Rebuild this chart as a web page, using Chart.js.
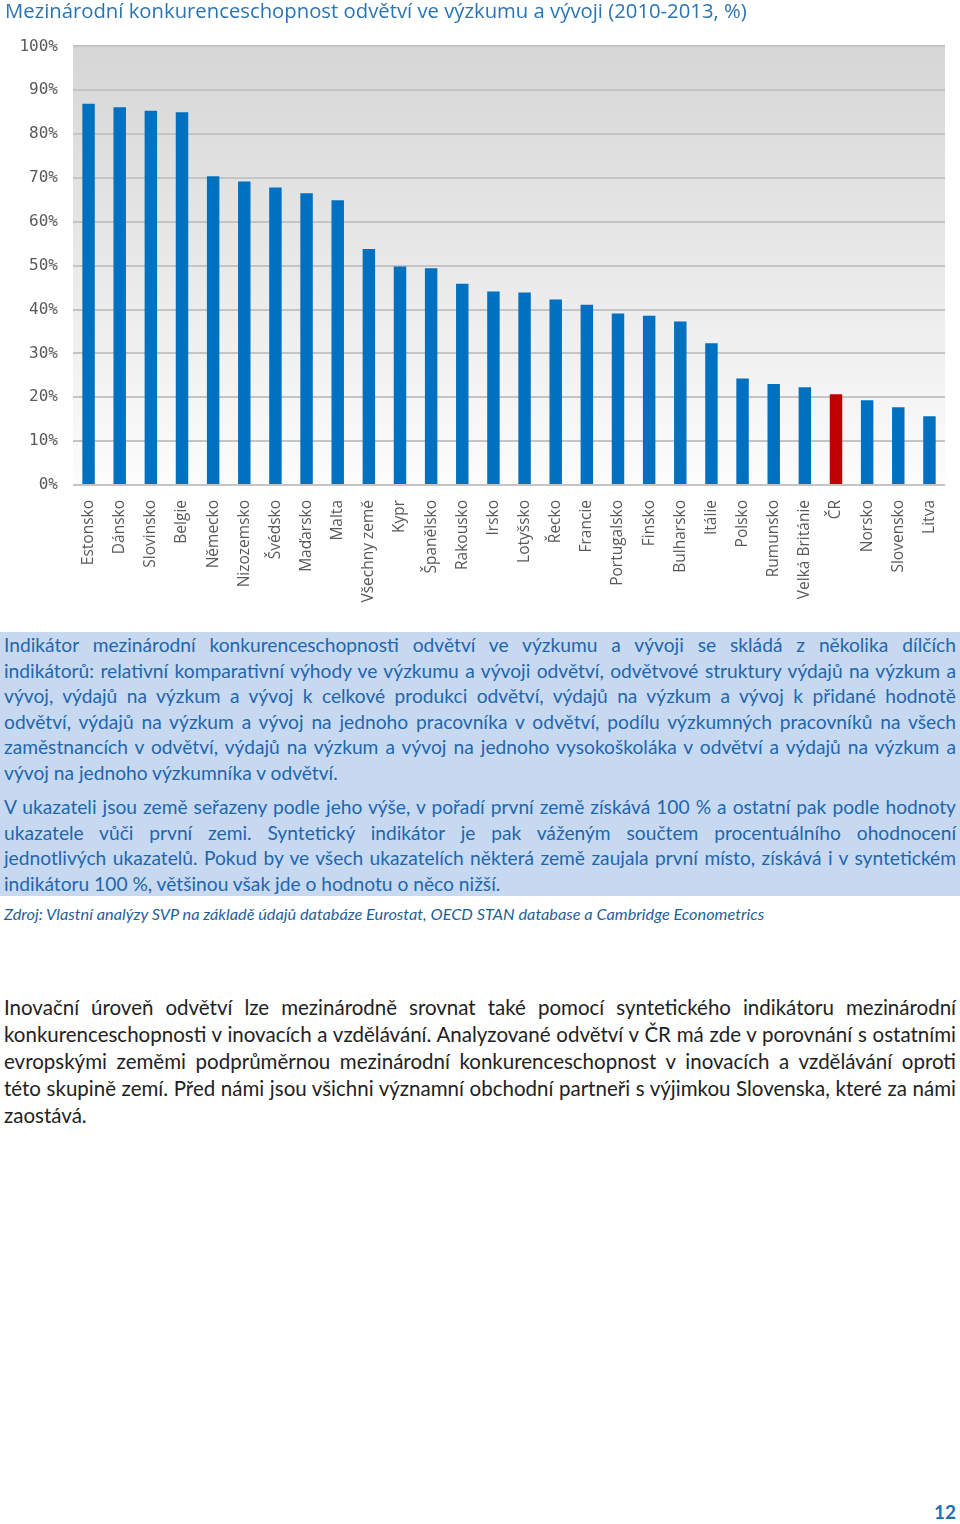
<!DOCTYPE html>
<html lang="cs">
<head>
<meta charset="utf-8">
<script src="https://cdn.jsdelivr.net/npm/chart.js@4"></script>
<style>
  body { margin: 0; background: #fff; width: 960px; height: 1524px; position: relative; }
  #graf { position: absolute; left: 0; top: 0; }
  .box { position: absolute; left: 0; top: 632px; width: 960px; height: 264px; background: #c6d9f1; }
  .box .radky { padding: 0 4px; font-family: Lato, sans-serif; font-size: 19.2px; line-height: 25.5px; color: #1f66ad; }
  .r { display: block; text-align: justify; text-align-last: justify; white-space: nowrap; }
  .r.konec { text-align-last: left; }
  .p2 { margin-top: 9px; }
  .zdroj { position: absolute; left: 4px; top: 904px; font-family: Lato, sans-serif; font-style: italic; font-size: 16.3px; color: #1f5f99; }
  .text { position: absolute; left: 4px; width: 952px; top: 994px; font-family: Lato, sans-serif; font-size: 20.5px; line-height: 27px; color: #222; }
  .strana { position: absolute; left: 934px; top: 1500px; font-family: Lato, sans-serif; font-weight: bold; font-size: 19px; color: #1f6fb5; }
</style>
</head>
<body>
<canvas id="graf" width="960" height="615"></canvas>

<div class="box"><div class="radky">
  <span class="r">Indikátor mezinárodní konkurenceschopnosti odvětví ve výzkumu a vývoji se skládá z několika dílčích</span>
  <span class="r">indikátorů: relativní komparativní výhody ve výzkumu a vývoji odvětví, odvětvové struktury výdajů na výzkum a</span>
  <span class="r">vývoj, výdajů na výzkum a vývoj k celkové produkci odvětví, výdajů na výzkum a vývoj k přidané hodnotě</span>
  <span class="r">odvětví, výdajů na výzkum a vývoj na jednoho pracovníka v odvětví, podílu výzkumných pracovníků na všech</span>
  <span class="r">zaměstnancích v odvětví, výdajů na výzkum a vývoj na jednoho vysokoškoláka v odvětví a výdajů na výzkum a</span>
  <span class="r konec">vývoj na jednoho výzkumníka v odvětví.</span>
  <div class="p2">
  <span class="r">V ukazateli jsou země seřazeny podle jeho výše, v pořadí první země získává 100 % a ostatní pak podle hodnoty</span>
  <span class="r">ukazatele vůči první zemi. Syntetický indikátor je pak váženým součtem procentuálního ohodnocení</span>
  <span class="r">jednotlivých ukazatelů. Pokud by ve všech ukazatelích některá země zaujala první místo, získává i v syntetickém</span>
  <span class="r konec">indikátoru 100 %, většinou však jde o hodnotu o něco nižší.</span>
  </div>
</div></div>
<div class="zdroj">Zdroj: Vlastní analýzy SVP na základě údajů databáze Eurostat, OECD STAN database a Cambridge Econometrics</div>

<div class="text">
  <span class="r">Inovační úroveň odvětví lze mezinárodně srovnat také pomocí syntetického indikátoru mezinárodní</span>
  <span class="r">konkurenceschopnosti v inovacích a vzdělávání. Analyzované odvětví v ČR má zde v porovnání s ostatními</span>
  <span class="r">evropskými zeměmi podprůměrnou mezinárodní konkurenceschopnost v inovacích a vzdělávání oproti</span>
  <span class="r">této skupině zemí. Před námi jsou všichni významní obchodní partneři s výjimkou Slovenska, které za námi</span>
  <span class="r konec">zaostává.</span>
</div>
<div class="strana">12</div>

<script>
// data (%)
var zeme = ['Estonsko', 'Dánsko', 'Slovinsko', 'Belgie', 'Německo', 'Nizozemsko', 'Švédsko', 'Maďarsko',
  'Malta', 'Všechny země', 'Kypr', 'Španělsko', 'Rakousko', 'Irsko', 'Lotyšsko', 'Řecko', 'Francie',
  'Portugalsko', 'Finsko', 'Bulharsko', 'Itálie', 'Polsko', 'Rumunsko', 'Velká Británie', 'ČR',
  'Norsko', 'Slovensko', 'Litva'];
var hodnoty = [86.9, 86.1, 85.3, 85.0, 70.4, 69.2, 67.8, 66.5,
  64.9, 53.8, 49.8, 49.4, 45.9, 44.1, 43.9, 42.3, 41.1,
  39.1, 38.6, 37.3, 32.3, 24.3, 23.0, 22.3, 20.7,
  19.3, 17.7, 15.7];
var zvyraznit = 'ČR';

var pozadi = {
  id: 'pozadi',
  beforeDraw: function(chart) {
    var a = chart.chartArea, ctx = chart.ctx;
    var g = ctx.createLinearGradient(0, a.top, 0, a.bottom);
    g.addColorStop(0, '#d6d6d6');
    g.addColorStop(1, '#fcfcfc');
    ctx.save();
    ctx.fillStyle = g;
    ctx.fillRect(a.left, a.top, a.right - a.left, a.bottom - a.top);
    ctx.restore();
  }
};

var ctx = document.getElementById('graf').getContext('2d');
var graf = new Chart(ctx, {
  type: 'bar',
  data: {
    labels: zeme,
    datasets: [{
      data: hodnoty,
      backgroundColor: zeme.map(function(z) { return z === zvyraznit ? '#c00000' : '#0070c0'; }),
      barPercentage: 0.4,
      categoryPercentage: 1
    }]
  },
  options: {
    responsive: false,
    devicePixelRatio: 1,
    animation: false,
    layout: { padding: { left: 5, right: 15, top: 0, bottom: 0 } },
    plugins: {
      legend: { display: false },
      tooltip: { enabled: false },
      title: {
        display: true,
        text: 'Mezinárodní konkurenceschopnost odvětví ve výzkumu a vývoji (2010-2013, %)',
        align: 'start',
        color: '#2a74b5',
        font: { family: 'Open Sans', size: 20.3, weight: 'normal' },
        padding: { top: 0, bottom: 22 }
      }
    },
    scales: {
      x: {
        grid: { display: false },
        border: { display: false },
        ticks: {
          autoSkip: false,
          minRotation: 90,
          maxRotation: 90,
          padding: 7,
          color: '#595959',
          font: { family: 'Open Sans', size: 15.5 }
        },
        afterFit: function(s) { s.height = 130; }
      },
      y: {
        min: 0,
        max: 100,
        border: { display: false },
        grid: { color: '#c4c4c4', lineWidth: 2, drawTicks: false },
        ticks: {
          stepSize: 10,
          padding: 15,
          color: '#595959',
          font: { family: 'DejaVu Sans Mono', size: 16 },
          callback: function(v) { return v + '%'; }
        },
        afterFit: function(s) { s.width = 68; }
      }
    }
  },
  plugins: [pozadi]
});
</script>
</body>
</html>
